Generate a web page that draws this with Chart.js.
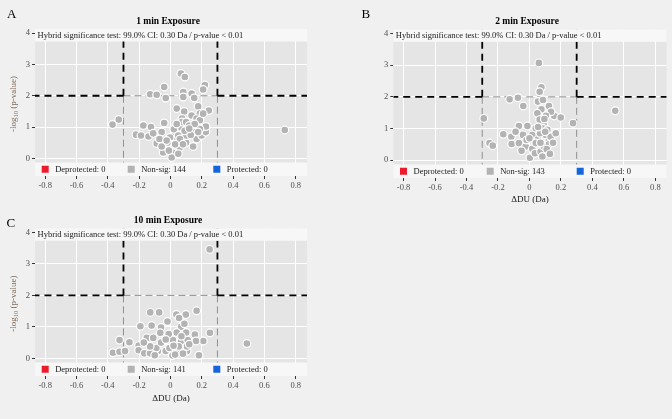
<!DOCTYPE html>
<html><head><meta charset="utf-8">
<script src="https://cdn.jsdelivr.net/npm/chart.js@4.4.1/dist/chart.umd.min.js"></script>
<style>
html,body{margin:0;padding:0;background:#f0f0f0;width:672px;height:419px;overflow:hidden;}
canvas{position:absolute;}
</style></head><body>
<canvas id="cA" width="336" height="200" style="left:0;top:0"></canvas>
<canvas id="cB" width="336" height="210" style="left:336px;top:0"></canvas>
<canvas id="cC" width="336" height="210" style="left:0;top:200px"></canvas>
<script>
// ---------- data ----------
const panelLetters = ["A", "B", "C"];
const panelTitles = ["1 min Exposure", "2 min Exposure", "10 min Exposure"];
const annotationText = "Hybrid significance test: 99.0% CI: 0.30 Da / p-value < 0.01";
const legendCategories = ["Deprotected", "Non-sig", "Protected"];
const legendCountsA = [0, 144, 0];
const legendCountsB = [0, 143, 0];
const legendCountsC = [0, 141, 0];
const xTicks = [-0.8, -0.6, -0.4, -0.2, 0, 0.2, 0.4, 0.6, 0.8];
const yTicks = [0, 1, 2, 3, 4];
const xAxisTitle = "\u0394DU (Da)";
const ciCutoff = 0.30;        // Da
const pCutoffLog = 2;         // -log10(0.01)

const xA = [0.73,-0.37,-0.33,0.067,0.092,-0.04,-0.13,-0.088,-0.03,0.082,0.082,0.135,0.152,0.22,0.209,0.177,0.245,0.04,0.088,0.188,0.074,0.135,0.167,-0.04,-0.173,-0.124,-0.22,-0.188,-0.14,-0.11,-0.056,-0.088,-0.046,-0.024,-0.046,0.011,0.008,0.029,0.029,0.06,0.10,0.145,0.167,0.199,0.226,0.226,0.145,0.06,0.074,0.10,0.10,0.022,0.05,-0.003,-0.017,0.11,0.188,0.177,0.188,0.209,0.12,0.13,0.06,0.04,0.09,0.155,-0.01,0.03,0.08,0.12,-0.07,0.05,-0.056,-0.024];
const yA = [0.91,1.08,1.24,2.71,2.60,2.28,2.05,2.03,1.93,2.12,1.96,2.07,1.93,2.34,2.20,1.66,1.53,1.59,1.50,1.43,1.27,1.37,1.27,1.13,1.05,1.00,0.76,0.73,0.70,0.80,0.84,0.48,0.51,0.35,0.19,0.19,0.03,0.62,0.84,0.35,0.51,0.38,0.62,0.73,0.84,1.02,0.84,1.00,1.16,1.16,0.73,0.93,0.73,0.67,0.51,0.93,0.94,0.84,1.22,1.43,1.05,0.75,0.62,1.10,0.88,1.10,0.25,0.45,0.45,0.95,0.62,0.15,0.38,0.57];

const xB = [0.06,0.076,0.065,-0.126,-0.073,-0.039,0.054,0.086,0.124,0.076,0.05,0.156,0.199,0.137,0.105,0.082,0.09,0.277,0.545,-0.29,-0.254,-0.233,-0.166,-0.115,-0.067,-0.013,-0.088,-0.113,-0.067,-0.024,-0.041,-0.018,0.018,0.04,0.082,0.018,0.003,0.035,0.054,0.071,0.092,0.124,0.103,0.135,0.167,0.067,0.114,0.065,0.124,0.04,0.082,0.0,0.10,0.07,0.11,0.13,0.055,-0.05,0.15,0.095];
const yB = [3.07,2.30,2.16,1.92,1.97,1.71,1.85,1.90,1.71,1.61,1.48,1.40,1.35,1.53,1.40,1.25,1.14,1.17,1.56,1.32,0.54,0.46,0.82,0.74,1.08,1.08,0.90,0.51,0.54,0.43,0.80,0.64,0.80,1.01,1.01,0.36,0.08,0.22,0.66,0.27,0.43,0.64,0.80,0.74,0.85,0.85,0.96,1.28,0.50,0.54,0.12,0.69,0.90,0.55,0.35,0.20,1.05,0.30,0.55,1.30];

const xC = [0.25,0.488,-0.367,-0.325,-0.29,-0.325,-0.262,-0.203,-0.203,-0.167,-0.13,-0.08,-0.03,0.013,0.053,0.106,0.182,0.21,0.252,0.156,0.167,0.098,0.038,0.055,0.068,-0.019,-0.072,-0.129,-0.12,-0.192,-0.06,-0.065,-0.151,-0.11,-0.04,0.016,0.068,0.11,0.163,0.10,0.04,-0.011,-0.09,-0.13,-0.006,0.053,0.106,-0.06,0.089,0.03,-0.10,0.08,-0.17,0.12,0.02,-0.03,0.07];
const yC = [3.46,0.47,0.18,0.21,0.23,0.58,0.51,0.41,0.26,0.16,0.16,0.23,0.23,0.09,0.23,0.23,0.10,0.55,0.81,0.76,1.51,1.39,1.39,1.28,1.00,1.17,1.46,1.46,1.04,1.02,0.98,0.81,0.65,0.65,0.55,0.58,0.55,0.58,0.55,0.82,0.82,0.77,0.33,0.38,0.33,0.38,0.38,0.50,1.10,0.12,0.10,0.15,0.50,0.45,0.40,0.60,0.70];

// ---------- styling ----------
const SERIF = "'Liberation Serif','Times New Roman',serif";
const legendColors = ["#ec1c2c", "#b3b3b3", "#1464dc"];
const X_MIN = -0.865, X_MAX = 0.872, Y_MIN = -0.56, Y_MAX = 4.13;

const panelPlugin = {
  id: 'panel',
  beforeDraw(chart) {
    const {ctx, chartArea: a} = chart;
    ctx.save();
    ctx.fillStyle = '#e5e5e5';
    ctx.fillRect(a.left, a.top, a.right - a.left, a.bottom - a.top);
    ctx.restore();
  },
  beforeDatasetsDraw(chart) {
    const {ctx, chartArea: a, scales} = chart;
    const xl = scales.x.getPixelForValue(-ciCutoff);
    const xr = scales.x.getPixelForValue(ciCutoff);
    const y2 = scales.y.getPixelForValue(pCutoffLog);
    const seg = (x1, y1, x3, y3) => { ctx.beginPath(); ctx.moveTo(x1, y1); ctx.lineTo(x3, y3); ctx.stroke(); };
    ctx.save();
    ctx.beginPath(); ctx.rect(a.left, a.top, a.right - a.left, a.bottom - a.top); ctx.clip();
    ctx.strokeStyle = '#8f8f8f'; ctx.lineWidth = 1; ctx.setLineDash([7, 4]);
    seg(xl, y2, xl, a.bottom); seg(xr, y2, xr, a.bottom); seg(xl, y2, xr, y2);
    ctx.strokeStyle = '#000'; ctx.lineWidth = 1.8; ctx.setLineDash([7, 5]);
    seg(xl, y2, a.left, y2); seg(xr, y2, a.right, y2);
    seg(xl, y2, xl, a.top); seg(xr, y2, xr, a.top);
    ctx.restore();
  },
  afterDatasetsDraw(chart, args, o) {
    const {ctx, chartArea: a} = chart;
    const w = a.right - a.left;
    ctx.save();
    // top annotation band
    ctx.fillStyle = '#f7f7f7';
    ctx.fillRect(a.left, a.top, w, 12.5);
    ctx.fillStyle = '#1a1a1a';
    ctx.font = "8.5px " + SERIF;
    ctx.textBaseline = 'middle'; ctx.textAlign = 'left';
    ctx.fillText(annotationText, a.left + 2.5, a.top + 6.8);
    // bottom legend band
    const bh = 13.5;
    ctx.fillStyle = '#f7f7f7';
    ctx.fillRect(a.left, a.bottom - bh, w, bh);
    const offs = o.legendOffsets;
    legendCategories.forEach((c, i) => {
      const x0 = a.left + offs[i];
      ctx.fillStyle = legendColors[i];
      ctx.fillRect(x0, a.bottom - bh / 2 - 3.5, 7, 7);
      ctx.fillStyle = '#1a1a1a';
      ctx.fillText(c + ": " + o.counts[i], x0 + 13.5, a.bottom - bh / 2 + 0.5);
    });
    ctx.restore();
  },
  afterDraw(chart, args, o) {
    const {ctx, chartArea: a} = chart;
    ctx.save();
    // panel letter
    ctx.fillStyle = '#000';
    ctx.font = "13px " + SERIF;
    ctx.textAlign = 'left'; ctx.textBaseline = 'alphabetic';
    ctx.fillText(o.letter, o.letterX, o.letterY);
    // title
    ctx.font = "bold 9.5px " + SERIF;
    ctx.textAlign = 'center'; ctx.textBaseline = 'middle';
    ctx.fillText(o.title, (a.left + a.right) / 2 - 3, o.titleY);
    // y axis title with subscript
    if (o.yTitle) {
      const p1 = "-log", p2 = "10", p3 = " (p-value)";
      const f1 = "9px " + SERIF, f2 = "6.5px " + SERIF;
      ctx.font = f1; const w1 = ctx.measureText(p1).width, w3 = ctx.measureText(p3).width;
      ctx.font = f2; const w2 = ctx.measureText(p2).width;
      const tot = w1 + w2 + w3;
      ctx.translate(13.5, (a.top + a.bottom) / 2 + 1.5);
      ctx.rotate(-Math.PI / 2);
      ctx.fillStyle = '#7f6a58';
      ctx.textAlign = 'left'; ctx.textBaseline = 'middle';
      let x = -tot / 2;
      ctx.font = f1; ctx.fillText(p1, x, 0); x += w1;
      ctx.font = f2; ctx.fillText(p2, x, 2.5); x += w2;
      ctx.font = f1; ctx.fillText(p3, x, 0);
    }
    ctx.restore();
  }
};

function makePanel(id, xs, ys, P) {
  const tickFont = {family: SERIF, size: 8.5};
  return new Chart(document.getElementById(id), {
    type: 'scatter',
    data: {datasets: [{
      data: xs.map((x, i) => ({x: x, y: ys[i]})),
      backgroundColor: '#b3b3b3', borderColor: '#ffffff', borderWidth: 1.2,
      pointRadius: 3.9, pointHoverRadius: 3.9
    }]},
    options: {
      responsive: false, animation: false, events: [],
      layout: {padding: {top: P.top, left: 0, right: P.padRight, bottom: 0}},
      plugins: {
        legend: {display: false}, tooltip: {enabled: false}, title: {display: false},
        panel: P.plugin
      },
      scales: {
        x: {
          type: 'linear', min: X_MIN, max: X_MAX,
          afterBuildTicks: s => { s.ticks = xTicks.map(v => ({value: v})); },
          afterFit: s => { s.height = P.xH; },
          grid: {color: '#ffffff', lineWidth: 1, tickColor: '#333333', tickLength: 3},
          border: {display: false},
          ticks: {font: tickFont, color: '#4d4d4d', padding: 1.5, maxRotation: 0, autoSkip: false,
                  callback: v => (v === 0 ? '0' : v.toFixed(1))},
          title: {display: P.xTitle, text: xAxisTitle, font: {family: SERIF, size: 9}, color: '#1a1a1a',
                  padding: {top: 0, bottom: P.xTitlePad}}
        },
        y: {
          type: 'linear', min: Y_MIN, max: Y_MAX,
          afterBuildTicks: s => { s.ticks = yTicks.map(v => ({value: v})); },
          afterFit: s => { s.width = P.yW; },
          grid: {color: '#ffffff', lineWidth: 1, tickColor: '#333333', tickLength: 3},
          border: {display: false},
          ticks: {font: tickFont, color: '#4d4d4d', padding: 2, autoSkip: false,
                  callback: v => String(v)}
        }
      }
    },
    plugins: [panelPlugin]
  });
}

makePanel('cA', xA, yA, {top: 29, padRight: 29, xH: 24, yW: 35, xTitle: false, xTitlePad: 0,
  plugin: {letter: panelLetters[0], letterX: 7, letterY: 17.5, title: panelTitles[0], titleY: 21.7,
           yTitle: true, counts: legendCountsA, legendOffsets: [6.7, 92.7, 178.3]}});
makePanel('cB', xB, yB, {top: 29.3, padRight: 5.3, xH: 32, yW: 57.3, xTitle: true, xTitlePad: 4.6,
  plugin: {letter: panelLetters[1], letterX: 25.5, letterY: 17.5, title: panelTitles[1], titleY: 22,
           yTitle: false, counts: legendCountsB, legendOffsets: [6.7, 93.4, 183.4]}});
makePanel('cC', xC, yC, {top: 28.3, padRight: 29, xH: 34, yW: 35, xTitle: true, xTitlePad: 5.6,
  plugin: {letter: panelLetters[2], letterX: 6.5, letterY: 27, title: panelTitles[2], titleY: 20.3,
           yTitle: true, counts: legendCountsC, legendOffsets: [6.7, 92.7, 178.3]}});
</script>
</body></html>
